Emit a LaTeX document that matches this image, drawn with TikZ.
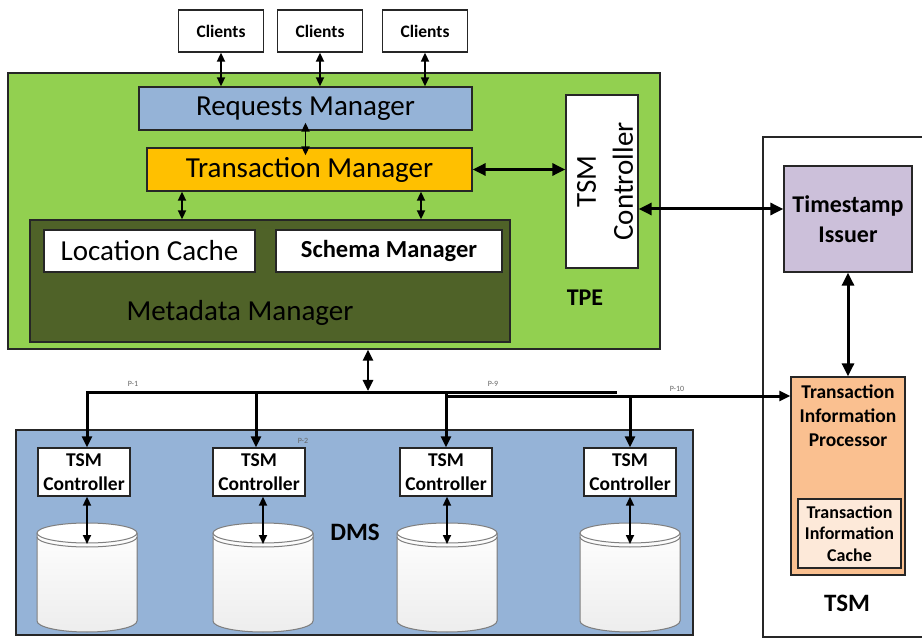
\documentclass[tikz,border=0pt]{standalone}
\usepackage{fontspec}
\setmainfont{Carlito}
\usetikzlibrary{arrows.meta}
\definecolor{tpegreen}{HTML}{92D050}
\definecolor{rmblue}{HTML}{95B3D7}
\definecolor{tmorange}{HTML}{FFC000}
\definecolor{mmgreen}{HTML}{4F6228}
\definecolor{tilav}{HTML}{CCC0DA}
\definecolor{tiporange}{HTML}{FAC090}
\definecolor{ticache}{HTML}{FDE9D9}
\definecolor{edgec}{HTML}{262626}
\definecolor{cylline}{HTML}{7F7F7F}
\begin{document}
\begin{tikzpicture}[x=1pt,y=-1pt,
  box/.style={draw=edgec, line width=1.3pt, inner sep=0pt, align=center},
  smallarr/.style={draw=black, line width=1.7pt, {Triangle[length=9pt,width=8pt]}-{Triangle[length=9pt,width=8pt]}},
  bigarr/.style={draw=black, line width=3pt, {Triangle[length=13pt,width=12pt]}-{Triangle[length=13pt,width=12pt]}},
  busdrop/.style={draw=black, line width=3pt, -{Triangle[length=11pt,width=10pt]}},
  plabel/.style={font=\fontsize{8}{9}\selectfont, text=black!60},
  bigtext/.style={font=\fontsize{29}{30}\selectfont},
  ctrlbox/.style={box, fill=white, minimum width=92pt, minimum height=48pt, font=\bfseries\fontsize{19.5}{24}\selectfont},
  clientbox/.style={box, fill=white, minimum width=85pt, minimum height=42pt, font=\bfseries\fontsize{17.5}{20}\selectfont}
]
\path[use as bounding box] (0,0) rectangle (922,639);

% ---------- TPE ----------
\node[box, fill=tpegreen, minimum width=652pt, minimum height=276pt] (tpe) at (334,211) {};
\node[font=\bfseries\fontsize{24}{26}\selectfont] (tpel) at (585,298) {TPE};

\node[clientbox] (c1) at (221,31) {Clients};
\node[clientbox] (c2) at (320,31) {Clients};
\node[clientbox] (c3) at (425,31) {Clients};

\node[box, fill=rmblue, minimum width=333pt, minimum height=43pt, bigtext] (rm) at (305.5,108.5) {Requests Manager};
\node[box, fill=tmorange, minimum width=325pt, minimum height=43pt, bigtext] (tm) at (309.5,169.5) {Transaction Manager};

\node[box, fill=white, minimum width=72pt, minimum height=173pt] (tsmc) at (602,181.5) {};
\node[rotate=90, align=center, font=\fontsize{29}{37}\selectfont] (tsmct) at (605,181.5) {TSM\\Controller};

\node[box, fill=mmgreen, minimum width=480pt, minimum height=122pt] (mm) at (270,281) {};
\node[bigtext] (mmt) at (240,313) {Metadata Manager};
\node[box, fill=white, minimum width=211pt, minimum height=42pt, bigtext] (lc) at (149.5,251) {Location Cache};
\node[box, fill=white, minimum width=226pt, minimum height=42pt, font=\bfseries\fontsize{24.5}{26}\selectfont] (sm) at (389,251) {Schema Manager};

% ---------- TSM ----------
\draw[draw=edgec, line width=1.1pt] (923,137) -- (763,137) -- (763,637) -- (923,637);
\node[box, fill=tilav, minimum width=128pt, minimum height=106pt, font=\bfseries\fontsize{24}{30}\selectfont] (ti) at (848,219) {Timestamp\\Issuer};
\node[box, fill=tiporange, minimum width=114pt, minimum height=198pt] (tip) at (848,476) {};
\node[align=center, font=\bfseries\fontsize{19.5}{24}\selectfont] (tipt) at (848,416) {Transaction\\Information\\Processor};
\node[box, fill=ticache, minimum width=103pt, minimum height=69pt, font=\bfseries\fontsize{18}{21.5}\selectfont] (tic) at (849.5,533.5) {Transaction\\Information\\Cache};
\node[font=\bfseries\fontsize{25}{27}\selectfont] (tsml) at (847,603) {TSM};

% ---------- DMS ----------
\node[box, fill=rmblue, minimum width=677pt, minimum height=205pt] (dms) at (354.5,532.5) {};
\node[font=\bfseries\fontsize{25}{27}\selectfont] (dmsl) at (355,532) {DMS};

\node[ctrlbox] (k1) at (84,472) {TSM\\Controller};
\node[ctrlbox] (k2) at (259,472) {TSM\\Controller};
\node[ctrlbox] (k3) at (446,472) {TSM\\Controller};
\node[ctrlbox] (k4) at (630,472) {TSM\\Controller};

% cylinders
\foreach \cx/\nm in {87/cy1, 263/cy2, 447/cy3, 630/cy4}{
  \fill[top color=white, bottom color=black!7] (\cx-50,533) -- (\cx-50,621)
     arc[start angle=180, end angle=360, x radius=50pt, y radius=11pt]
     -- (\cx+50,533) arc[start angle=0, end angle=180, x radius=50pt, y radius=10pt] -- cycle;
  \draw[cylline, line width=1pt] (\cx-50,533) -- (\cx-50,621)
     arc[start angle=180, end angle=360, x radius=50pt, y radius=11pt] -- (\cx+50,533);
  \draw[cylline, line width=1pt, fill=white] (\cx,533) ellipse[x radius=50pt, y radius=10pt];
  \draw[cylline, line width=1pt] (\cx-50,537) arc[start angle=180, end angle=360, x radius=50pt, y radius=10pt];
  \coordinate (\nm) at (\cx,544);
}

% ---------- connectors ----------
\draw[smallarr] (c1.south) -- (c1.south |- rm.north);
\draw[smallarr] (c2.south) -- (c2.south |- rm.north);
\draw[smallarr] (c3.south) -- (c3.south |- rm.north);
\draw[smallarr] ([yshift=8pt]rm.south) -- ([yshift=-8pt]rm.south |- tm.north);
\coordinate (a1) at (182,0);
\coordinate (a2) at (421,0);
\draw[smallarr] (tm.south -| a1) -- (mm.north -| a1);
\draw[smallarr] (tm.south -| a2) -- (mm.north -| a2);
\draw[bigarr] (tm.east) -- (tm.east -| tsmc.west);
\coordinate (h1) at (0,209);
\draw[bigarr] (tsmc.east |- h1) -- (ti.west |- h1);
\draw[bigarr] (ti.south) -- (tip.north);

% bus
\coordinate (b1) at (87,392);
\coordinate (b2) at (256,392);
\coordinate (b3) at (446,392);
\coordinate (bend) at (617,392);
\coordinate (j3) at (446,396);
\coordinate (b4) at (630,396);
\coordinate (tb) at (368,391);
\draw[busdrop] (bend) -- (b1) -- (k1.north -| b1);
\draw[busdrop] (b2) -- (k2.north -| b2);
\draw[busdrop] (b3) -- (k3.north -| b3);
\draw[busdrop] (j3) -- (j3 -| tip.west);
\draw[busdrop] (b4) -- (k4.north -| b4);
\draw[draw=black, line width=2.6pt, {Triangle[length=11pt,width=10pt]}-{Triangle[length=11pt,width=10pt]}] (tb |- tpe.south) -- (tb);

\node[plabel] (p1) at (133,384) {P-1};
\node[plabel] (p2) at (303,441) {P-2};
\node[plabel] (p9) at (493,384) {P-9};
\node[plabel] (p10) at (677,389) {P-10};

\draw[smallarr] (k1.south -| cy1) -- (cy1);
\draw[smallarr] (k2.south -| cy2) -- (cy2);
\draw[smallarr] (k3.south -| cy3) -- (cy3);
\draw[smallarr] (k4.south -| cy4) -- (cy4);
\end{tikzpicture}
\end{document}
